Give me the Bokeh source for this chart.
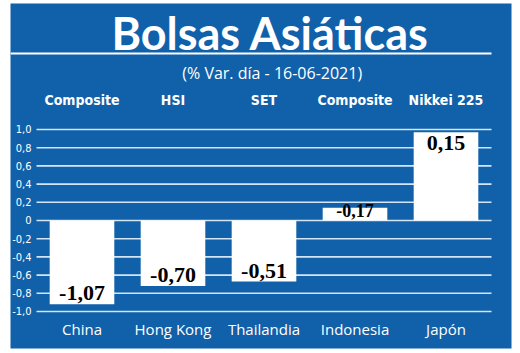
from bokeh.plotting import figure
from bokeh.models import Range1d, ColumnDataSource
from bokeh.core.properties import value
from bokeh.embed import file_html
from bokeh.resources import INLINE

# ---- data ----
countries = ["China", "Hong Kong", "Thailandia", "Indonesia", "Japón"]
indices = ["Composite", "HSI", "SET", "Composite", "Nikkei 225"]
bar_values = [-0.92, -0.72, -0.67, 0.14, 0.97]          # bar heights as drawn
label_texts = ["-1,07", "-0,70", "-0,51", "-0,17", "0,15"]  # printed values
tick_values = [1.0, 0.8, 0.6, 0.4, 0.2, 0.0, -0.2, -0.4, -0.6, -0.8, -1.0]
tick_labels = ["1,0", "0,8", "0,6", "0,4", "0,2", "0", "-0,2", "-0,4", "-0,6", "-0,8", "-1,0"]
title = "Bolsas Asiáticas"
subtitle = "(% Var. día - 16-06-2021)"

BLUE = "#1161aa"
GRID = "#d4e6f6"
COND = "DejaVu Sans Condensed, Roboto, sans-serif"

p = figure(width=520, height=353, output_backend="svg", toolbar_location=None,
           x_axis_location=None, y_axis_location=None,
           x_range=Range1d(-0.7857, 4.7198), y_range=Range1d(-1.4066, 2.3846),
           min_border_left=10, min_border_right=9, min_border_top=3, min_border_bottom=5)
p.background_fill_color = BLUE
p.border_fill_color = "white"
p.outline_line_color = None
p.xgrid.visible = False
p.ygrid.visible = False

n = len(countries)
xs = list(range(n))

# gridlines
p.segment(x0=[-0.5] * len(tick_values), x1=[n - 0.5] * len(tick_values),
          y0=tick_values, y1=tick_values, line_color=GRID, line_width=1.6)

# tick labels
p.text(x=[-0.555] * len(tick_values), y=tick_values, text=tick_labels,
       text_color="white", text_font=value(COND),
       text_font_size="11px", text_align="right", text_baseline="middle")

# bars
p.vbar(x=xs, top=bar_values, bottom=0, width=0.71, fill_color="white", line_color=None)

# value labels inside bar ends
label_y = [v - (1 if v > 0 else -1) * min(0.12, abs(v) * 0.2) for v in bar_values]
sizes = ["22px" if abs(v) > 0.3 else "18px" for v in bar_values]
src = ColumnDataSource(dict(x=xs, y=label_y, t=label_texts, s=sizes))
p.text(x="x", y="y", text="t", source=src, text_font_size="s",
       text_color="black", text_font=value("Liberation Serif"), text_font_style="bold",
       text_align="center", text_baseline="middle")

# index names (top)
p.text(x=xs, y=[1.32] * n, text=indices, text_color="white",
       text_font=value(COND), text_font_style="bold",
       text_font_size="14px", text_align="center", text_baseline="middle")

# country names (bottom)
p.text(x=xs, y=[-1.19] * n, text=countries, text_color="white",
       text_font=value("Open Sans"), text_font_size="15px",
       text_align="center", text_baseline="middle")

# title, rule and subtitle
p.text(x=[2.07], y=[2.055], text=[title], text_color="white",
       text_font=value("Lato"), text_font_style="bold", text_font_size="45px",
       text_align="center", text_baseline="middle")
p.segment(x0=[-0.7857], x1=[n - 0.5], y0=[1.835], y1=[1.835], line_color="white", line_width=2)
p.text(x=[2.09], y=[1.626], text=[subtitle], text_color="white",
       text_font=value("Open Sans"), text_font_size="16px",
       text_align="center", text_baseline="middle")

open("out.html", "w").write(file_html(p, INLINE))
